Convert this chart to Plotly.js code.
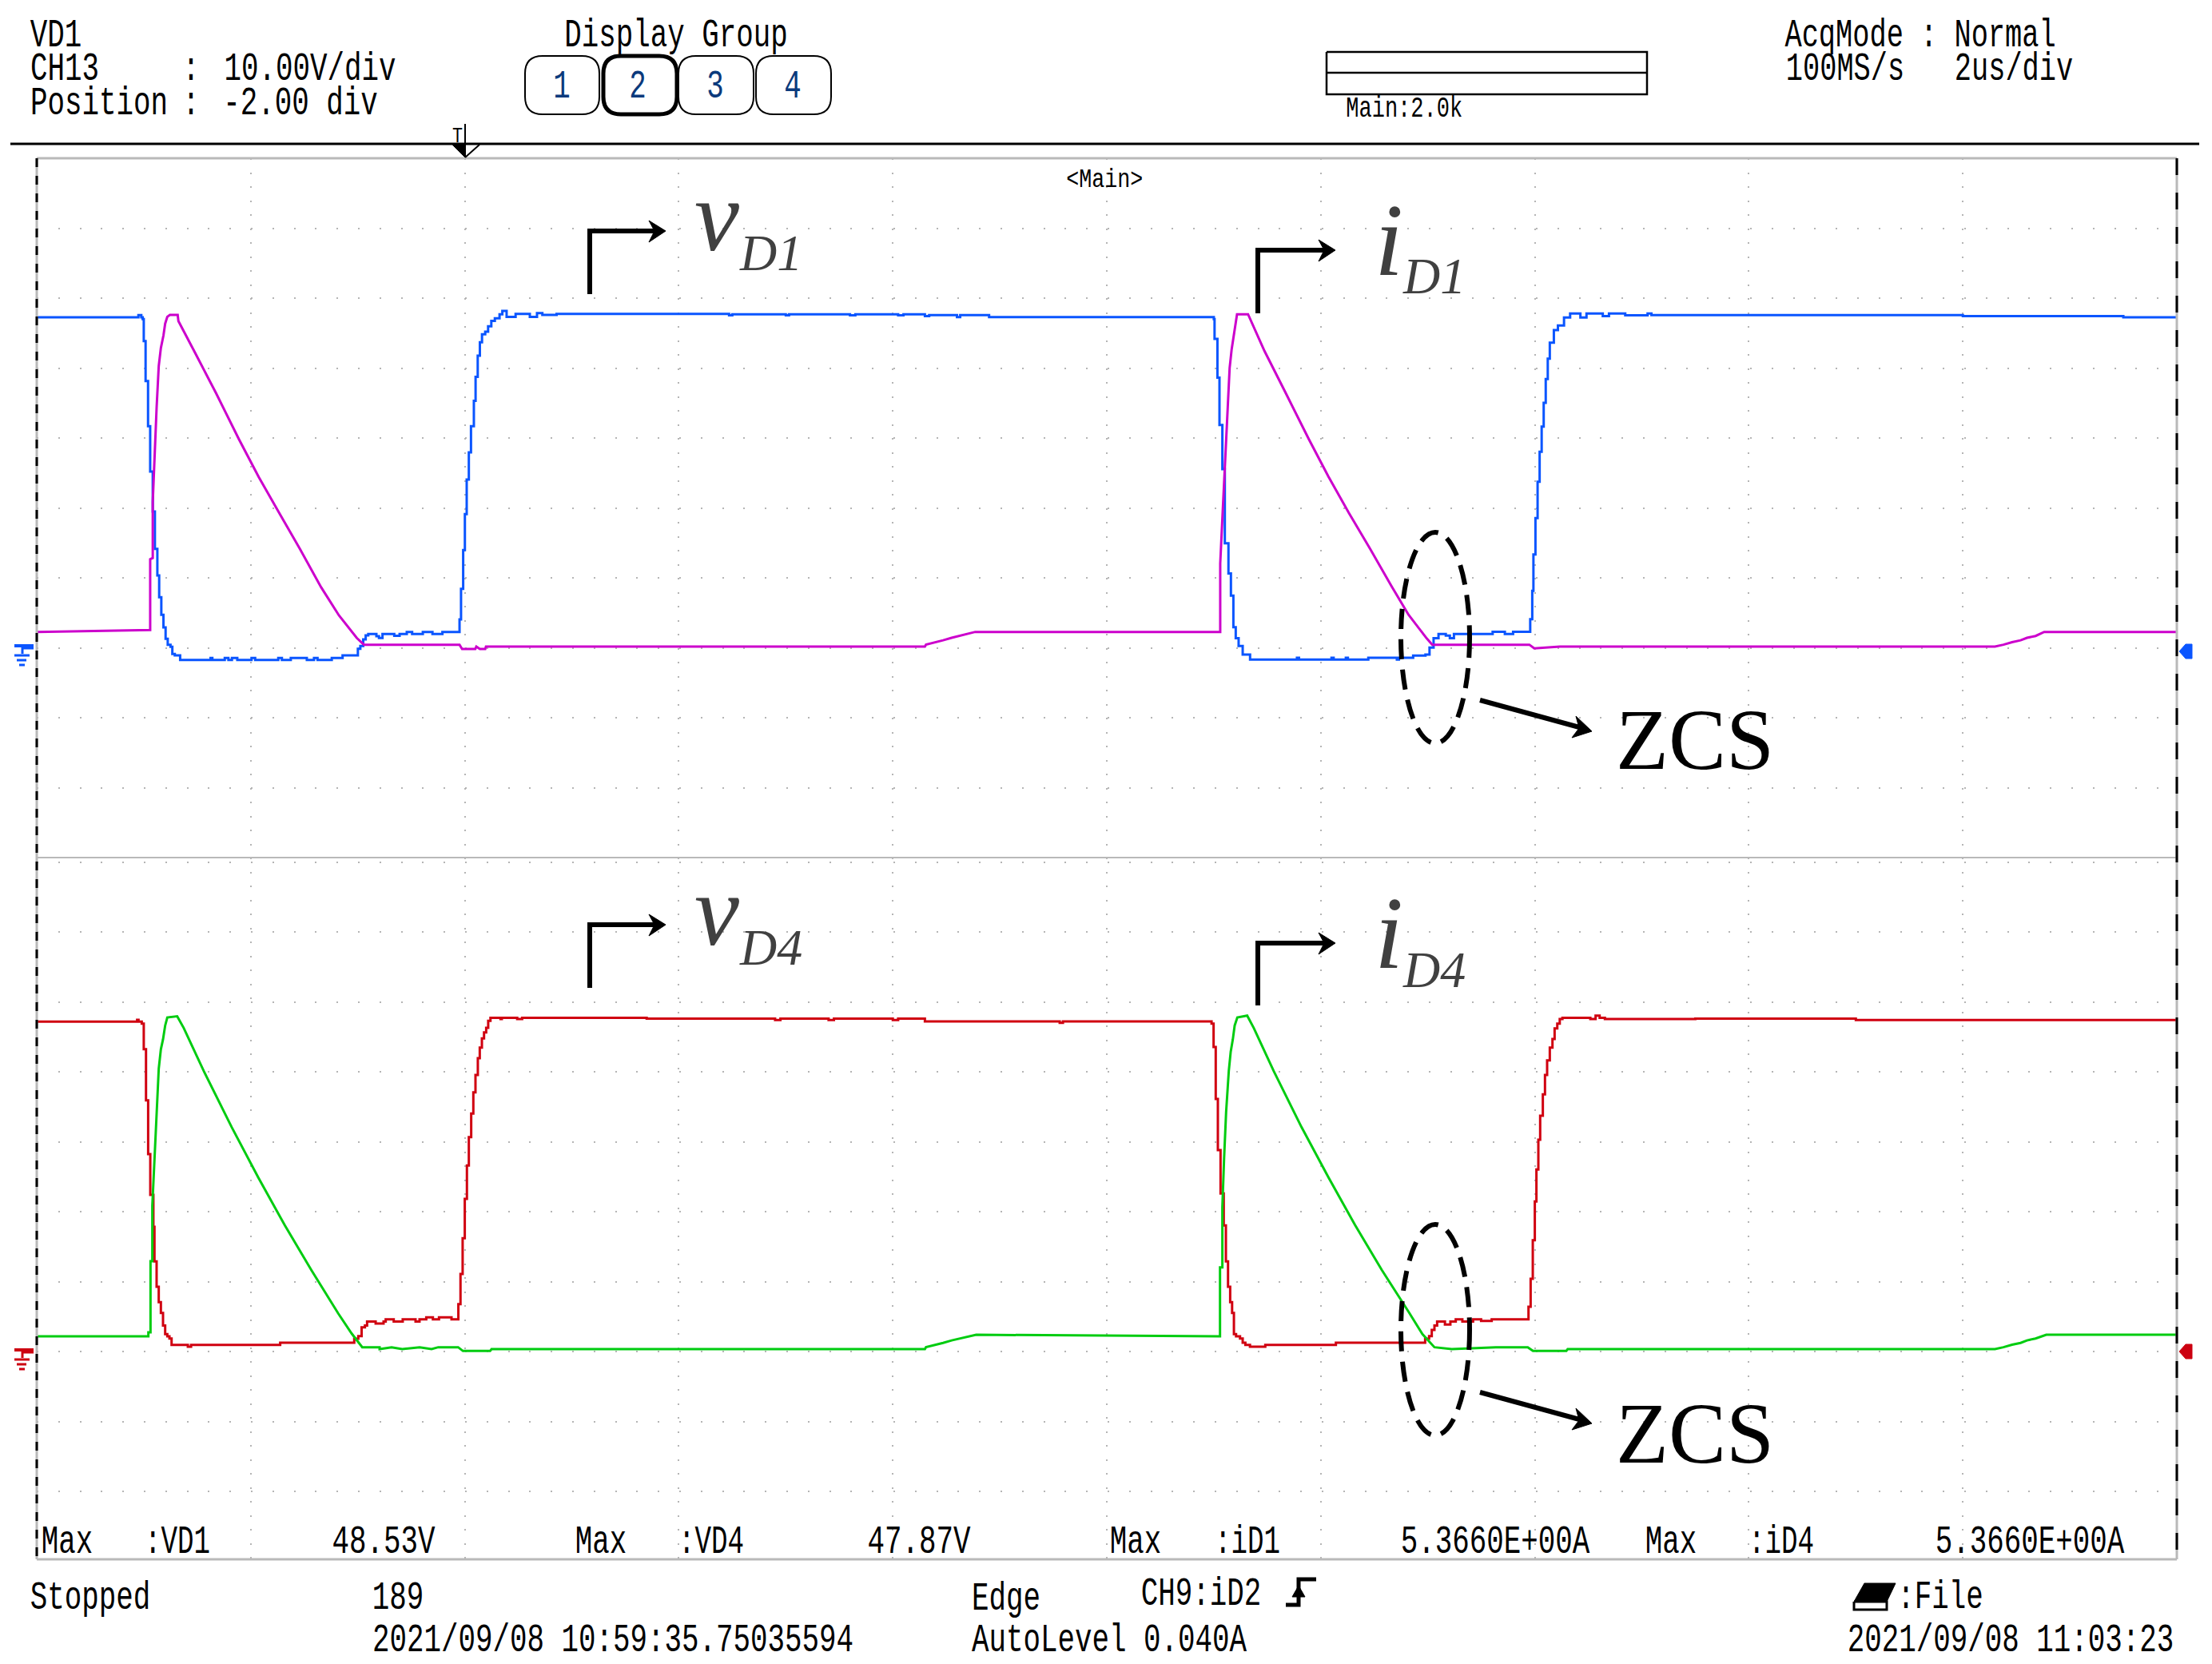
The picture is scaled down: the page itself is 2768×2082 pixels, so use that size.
<!DOCTYPE html>
<html><head><meta charset="utf-8">
<script src="https://cdn.plot.ly/plotly-3.0.1.min.js"></script>
<style>html,body{margin:0;padding:0;background:#fff}</style></head>
<body><div id="chart" style="width:2768px;height:2082px"></div>
<script>
// Times in microseconds, voltages in volts, currents in amperes.
const vD1T=[0,0.95,0.977,0.99,1,1.017,1.04,1.06,1.084,1.104,1.127,1.144,1.164,1.184,1.204,1.224,1.25,1.267,1.29,1.34,1.624,1.641,1.757,1.791,1.824,1.874,2.007,2.041,2.257,2.291,2.374,2.524,2.591,2.624,2.757,2.858,3.001,3.024,3.051,3.074,3.098,3.174,3.198,3.231,3.341,3.391,3.458,3.508,3.608,3.698,3.791,3.951,3.965,3.985,4.001,4.018,4.038,4.058,4.085,4.101,4.121,4.141,4.161,4.191,4.218,4.248,4.281,4.325,4.351,4.391,4.475,4.608,4.675,4.725,4.858,6.47,6.5,7,7.03,7.6,7.65,8.05,8.1,8.3,8.34,8.6,8.63,8.9,
11,11.007,11.034,11.053,11.08,11.103,11.137,11.16,11.183,11.205,11.232,11.27,11.339,11.777,11.796,12.1,12.12,12.234,12.253,12.444,12.711,12.73,12.863,12.978,13.016,13.054,13.1,13.168,13.206,13.244,13.606,13.72,13.797,13.957,13.976,13.987,14.006,14.026,14.045,14.064,14.083,14.102,14.121,14.14,14.178,14.216,14.273,14.33,14.426,14.483,14.635,14.693,14.845,15.054,15.09,18,19.5,20];
const vD1V=[47.43,47.73,47.43,47.16,44.04,38.32,31.85,25.37,19.66,14.32,10.51,7.39,4.88,3.09,1.45,0.61,0.3,-0.72,-0.91,-1.56,-1.3,-1.56,-1.3,-1.56,-1.3,-1.56,-1.3,-1.56,-1.3,-1.56,-1.3,-1.56,-1.3,-1.56,-1.3,-0.91,0.04,0.42,1.37,1.94,2.13,1.83,1.56,2.13,1.87,2.13,2.44,2.13,2.44,2.13,2.44,4.23,8.61,14.13,19.28,24.23,28.11,31.85,35.47,38.9,41.94,43.85,44.99,45.37,46.13,46.9,47.28,47.85,48.34,47.47,47.92,47.47,48.04,47.77,47.92,47.7,47.86,47.7,47.86,47.7,47.86,47.7,47.86,47.6,47.75,47.46,47.75,47.46,
47.16,44.35,38.8,32.03,25.7,15.1,10.8,7.64,3.12,1.54,0.42,-0.8,-1.53,-1.26,-1.53,-1.26,-1.53,-1.26,-1.53,-1.26,-1.53,-1.26,-0.94,-0.8,0.19,1.54,2.13,1.91,1.54,2.13,2.45,2.13,2.45,4.25,8.32,13.51,18.7,23.9,28.2,31.8,35.2,38.6,41.5,43.8,45.6,46.25,47.39,47.97,47.39,47.97,47.6,47.97,47.7,47.97,47.75,47.6,47.43,47.43];

const iD1T=[0,1.04,1.06,1.06,1.084,1.084,1.1,1.12,1.14,1.16,1.184,1.2,1.22,1.244,1.317,1.324,1.474,1.674,1.891,2.074,2.257,2.458,2.658,2.824,2.991,3.041,3.058,3.951,3.975,4.098,4.108,4.141,4.191,4.198,8.3,8.31,8.39,8.47,8.55,8.62,8.7,8.77,
11.06,11.06,11.083,11.11,11.129,11.148,11.167,11.186,11.217,11.32,11.474,11.674,11.89,12.07,12.26,12.46,12.66,12.82,12.99,13.042,13.949,13.995,14.235,18.3,18.38,18.46,18.54,18.6,18.68,18.76,20];
const iD1A=[0.235,0.265,0.265,1.4,1.42,2.32,3.09,3.83,4.5,4.79,4.99,5.18,5.29,5.32,5.32,5.22,4.73,4.07,3.32,2.72,2.17,1.57,0.95,0.5,0.137,0.05,0.03,0.03,-0.04,-0.04,0,-0.04,-0.04,0,0,0.03,0.07,0.1,0.14,0.17,0.2,0.235,
0.235,1.33,2.16,3.05,3.81,4.47,4.77,4.98,5.33,5.33,4.74,4.06,3.32,2.73,2.15,1.57,0.97,0.51,0.13,0.03,0.03,-0.03,0,0,0.03,0.07,0.1,0.14,0.17,0.235,0.235];

const vD4T=[0,0.938,0.951,0.981,1,1.021,1.041,1.061,1.09,1.1,1.12,1.14,1.16,1.18,1.2,1.22,1.24,1.26,1.412,1.442,2.275,2.967,3.005,3.036,3.067,3.087,3.167,3.241,3.261,3.336,3.42,3.54,3.577,3.64,3.702,3.759,3.876,3.94,3.96,3.98,4,4.02,4.038,4.06,4.08,4.1,4.122,4.14,4.16,4.18,4.2,4.219,4.24,4.334,4.346,4.49,4.536,5.7,6.9,6.95,7.4,7.45,8,8.05,8.3,9.56,9.59,
10.979,10.998,11.018,11.038,11.063,11.093,11.113,11.133,11.153,11.171,11.188,11.208,11.245,11.27,11.295,11.338,11.481,12.141,12.975,13.012,13.037,13.062,13.087,13.16,13.211,13.261,13.323,13.423,13.498,13.597,13.941,13.961,13.981,14,14.015,14.033,14.05,14.075,14.095,14.115,14.14,14.165,14.185,14.21,14.233,14.258,14.519,14.568,14.606,14.655,15.5,17,20];
const vD4V=[47.16,47.43,47.16,46.9,43.24,35.92,28.23,22.4,17.83,12.88,9.26,7.05,5.52,3.73,2.48,2.17,1.87,0.95,0.69,0.95,1.26,1.83,2.21,3.47,3.73,4.3,4,4.3,4.61,4.3,4.61,4.3,4.61,4.88,4.61,4.88,4.61,6.78,11.09,16.19,21.83,26.59,30.67,34.02,37.07,39.54,41.94,43.47,44.76,45.64,46.29,47.28,47.73,47.54,47.73,47.54,47.73,47.6,47.4,47.6,47.4,47.6,47.4,47.6,47.2,47,47.2,
46.9,43.54,36.11,28.8,22.59,18.03,12.88,9.26,7.05,5.52,2.48,2.17,1.87,1.26,0.95,0.69,0.95,1.26,1.83,2.21,3.09,3.73,4.3,3.85,4.3,4.61,4.3,4.61,4.38,4.61,6.4,10.4,15.92,21.45,26.02,30.29,33.71,36.76,39.54,41.64,43.47,44.69,46.2,46.9,47.54,47.73,47.54,48.04,47.73,47.54,47.6,47.4,47.2];

const iD4T=[0,1.043,1.043,1.063,1.063,1.08,1.08,1.1,1.12,1.14,1.16,1.18,1.2,1.22,1.312,1.374,1.561,1.822,2.071,2.32,2.569,2.818,2.943,3.042,3.204,3.204,3.316,3.416,3.578,3.69,3.752,3.938,3.983,4.237,4.25,8.3,8.31,8.39,8.47,8.55,8.62,8.7,8.78,
11.058,11.058,11.08,11.08,11.096,11.115,11.14,11.158,11.178,11.195,11.22,11.312,11.374,11.56,11.82,12.07,12.32,12.57,12.82,12.95,13.062,13.224,13.635,13.934,13.983,14.294,14.307,18.3,18.38,18.46,18.54,18.6,18.68,18.78,20];
const iD4A=[0.205,0.205,0.27,0.27,1.41,1.41,2.3,3.09,3.88,4.5,4.81,4.97,5.19,5.32,5.34,5.15,4.46,3.56,2.75,1.98,1.26,0.57,0.25,0.03,0.03,0,0.03,0,0.03,0,0.03,0.03,-0.03,-0.03,0,0,0.03,0.07,0.1,0.14,0.17,0.2,0.23,
0.205,1.31,1.31,2.28,3.05,3.8,4.46,4.77,4.97,5.19,5.32,5.35,5.15,4.46,3.56,2.76,1.99,1.27,0.6,0.24,0.03,0,0.03,0.03,-0.03,-0.03,0,0,0.03,0.07,0.1,0.14,0.17,0.23,0.23];

const headerTexts=["VD1","CH13","10.00V/div","Position",":","-2.00 div","Display Group","AcqMode : Normal","100MS/s","2us/div","Main:2.0k"];
const footerTexts=["Max",":VD1","48.53V",":VD4","47.87V",":iD1","5.3660E+00A",":iD4","Stopped","189","Edge","CH9:iD2",":File","2021/09/08 10:59:35.75035594","AutoLevel 0.040A","2021/09/08 11:03:23"];
const groupButtons=["1","2","3","4"];

const W=2768,H=2082,L=46,R=2724,TOP=198,MID=1073,BOT=1951;
const fx=x=>x/W, fy=y=>1-y/H;
const path=(pts,close)=>pts.map((p,i)=>(i?'L':'M')+fx(p[0])+' '+fy(p[1])).join(' ')+(close?' Z':'');
const poly=(pts,c,w)=>({type:'path',xref:'paper',yref:'paper',path:path(pts),line:{color:c,width:w},layer:'above'});
const fill=(pts,c)=>({type:'path',xref:'paper',yref:'paper',path:path(pts,true),fillcolor:c,line:{color:c,width:1},layer:'above'});
const rrect=(x0,y0,x1,y1,r,w)=>({type:'path',xref:'paper',yref:'paper',layer:'above',fillcolor:'#fff',line:{color:'#000',width:w},
 path:`M${fx(x0+r)} ${fy(y0)} L${fx(x1-r)} ${fy(y0)} Q${fx(x1)} ${fy(y0)} ${fx(x1)} ${fy(y0+r)} L${fx(x1)} ${fy(y1-r)} Q${fx(x1)} ${fy(y1)} ${fx(x1-r)} ${fy(y1)} L${fx(x0+r)} ${fy(y1)} Q${fx(x0)} ${fy(y1)} ${fx(x0)} ${fy(y1-r)} L${fx(x0)} ${fy(y0+r)} Q${fx(x0)} ${fy(y0)} ${fx(x0+r)} ${fy(y0)} Z`});

const shapes=[];
// frame
shapes.push(poly([[L,TOP],[R,TOP]],'#b9b9b9',3),poly([[L,MID],[R,MID]],'#b9b9b9',2),poly([[L,BOT],[R,BOT]],'#b9b9b9',3));
shapes.push(poly([[L,TOP],[L,BOT]],'#b9b9b9',3),poly([[R,TOP],[R,BOT]],'#b9b9b9',3));
shapes.push({...poly([[L,TOP],[L,BOT]],'#000',3),line:{color:'#000',width:3,dash:'11px,11px'}});
shapes.push({...poly([[R,TOP],[R,BOT]],'#000',3),line:{color:'#000',width:3,dash:'21px,22px'}});
// top rule and trigger marker
shapes.push(poly([[13,180],[2752,180]],'#000',3),poly([[582,155],[582,197]],'#000',2));
shapes.push(fill([[566,181],[582,181],[582,197]],'#000'),poly([[582,197],[600,181]],'#000',2));
// buttons
[[657,750,2],[849,943,2],[946,1040,2],[755,847,5]].forEach(b=>shapes.push(rrect(b[0],70,b[1],143,22,b[2])));
// acquisition box
shapes.push(poly([[1660,65],[2061,65],[2061,118],[1660,118],[1660,65]],'#000',2.5),poly([[1660,91],[2061,91]],'#000',2.5));
// bent arrows beside labels
[[738,368,287,289,833],[1574,392,311,313,1671],[738,1236,1155,1157,833],[1574,1258,1177,1180,1671]].forEach(a=>{
  shapes.push(poly([[a[0],a[1]],[a[0],a[2]]],'#000',6),poly([[a[0]-3,a[3]],[a[4]-8,a[3]]],'#000',6));
  shapes.push(fill([[a[4]-21,a[3]-13],[a[4],a[3]],[a[4]-21,a[3]+14],[a[4]-14,a[3]]],'#000'));
});
// ZCS ellipses and arrows
[0,866].forEach(d=>{
  shapes.push({type:'circle',xref:'paper',yref:'paper',layer:'above',x0:fx(1753),x1:fx(1839),y0:fy(930+d),y1:fy(666+d),line:{color:'#000',width:6,dash:'25px,13px'}});
  shapes.push(poly([[1852,876+d],[1980,911+d]],'#000',6));
  shapes.push(fill([[1992,915+d],[1972,896+d],[1976,911+d],[1967,923+d]],'#000'));
});
// ground symbols and channel markers
const gnd=(c,y)=>[poly([[18,y],[42,y]],c,4),poly([[28,y],[28,y+10]],c,3),poly([[28,y+3],[42,y+3]],c,3),poly([[18,y+12],[37,y+12]],c,3),poly([[21,y+18],[33,y+18]],c,3),poly([[24,y+24],[31,y+24]],c,3)];
shapes.push(...gnd('#0a55ff',808),...gnd('#cc0010',1689));
const mark=(c,y)=>fill([[2727,y],[2735,y-9],[2743,y-9],[2743,y+9],[2735,y+9]],c);
shapes.push(mark('#0a55ff',815),mark('#cc0010',1691));
// trigger edge symbol
shapes.push(poly([[1609,2008],[1625,2008],[1625,1976],[1647,1976]],'#000',5),fill([[1617,1998],[1633,1998],[1625,1984]],'#000'));
// printer icon
shapes.push(fill([[2333,1981],[2372,1981],[2361,2004],[2320,2004]],'#000'),poly([[2320,2004],[2361,2004],[2361,2014],[2320,2014],[2320,2004]],'#000',3));

const ann=[],squeeze={};
function mono(text,x,base,cell,size,color){
  const w=text.length*cell, i=ann.length; squeeze[i]=w;
  ann.push({text,xref:'paper',yref:'paper',x:fx(x+w/2),y:fy(base+0.3*size),xanchor:'center',yanchor:'bottom',showarrow:false,borderpad:0,borderwidth:0,
    font:{family:'Liberation Mono',size,color:color||'#000'}});
}
function serif(text,x,base,size,color){
  ann.push({text,xref:'paper',yref:'paper',x:fx(x),y:fy(base+0.216*size),xanchor:'left',yanchor:'bottom',showarrow:false,borderpad:0,borderwidth:0,
    font:{family:'Liberation Serif',size,color}});
}
const C=21.5,S=50;
mono(headerTexts[0],38,58,C,S);
mono(headerTexts[1],38,100,C,S); mono(":",228,100,C,S); mono(headerTexts[2],280,100,C,S);
mono(headerTexts[3],38,143,C,S); mono(":",228,143,C,S); mono(headerTexts[5],279,143,C,S);
mono(headerTexts[6],706,58,C,S);
mono(headerTexts[7],2233,58,C-0.3,S);
mono(headerTexts[8],2235,100,C-0.3,S); mono(headerTexts[9],2446,100,C-0.3,S);
mono(headerTexts[10],1684,146,16.2,36);
mono("<Main>",1334,234,16,34);
mono("T",566,178,13,28);
groupButtons.forEach((b,i)=>mono(b,[692,787,884,981][i],122,21.5,50,'#0b3a7c'));
[52,720,1389,2059].forEach(x=>mono(footerTexts[0],x,1943,C,S));
mono(footerTexts[1],181,1943,20.5,S); mono(footerTexts[2],415,1943,C,S);
mono(footerTexts[3],849,1943,20.5,S); mono(footerTexts[4],1085,1943,C,S);
mono(footerTexts[5],1520,1943,20.5,S); mono(footerTexts[6],1753,1943,C,S);
mono(footerTexts[7],2188,1943,20.5,S); mono(footerTexts[6],2422,1943,C,S);
mono(footerTexts[8],38,2013,C,S); mono(footerTexts[9],466,2013,C,S); mono(footerTexts[10],1216,2014,C,S);
mono(footerTexts[11],1428,2008,C,S); mono(footerTexts[12],2374,2012,C,S);
mono(footerTexts[13],466,2066,C,S); mono(footerTexts[14],1216,2066,C,S); mono(footerTexts[15],2312,2066,C,S);
const G='#404040';
serif('<i>v</i>',869,313,126,G); serif('<i>D1</i>',925,338,64,G);
serif('<i>i</i>',1720,344,130,G); serif('<i>D1</i>',1755,367,64,G);
serif('<i>v</i>',869,1182,126,G); serif('<i>D4</i>',925,1207,64,G);
serif('<i>i</i>',1720,1211,130,G); serif('<i>D4</i>',1755,1235,64,G);
serif('ZCS',2022,962,108,'#000'); serif('ZCS',2022,1830,108,'#000');

const yBase={domain:[fy(MID),fy(TOP)],showticklabels:false,ticks:'',zeroline:false,showline:false,showgrid:true,gridcolor:'#b5b5b5',gridwidth:2,griddash:'2px,24.8px',dtick:10};
const layout={width:W,height:H,margin:{l:0,r:0,t:0,b:0,pad:0},paper_bgcolor:'#fff',plot_bgcolor:'#fff',showlegend:false,
 xaxis:{domain:[fx(L),fx(R)],range:[0,20],dtick:2,tick0:0,showticklabels:false,ticks:'',zeroline:false,showline:false,showgrid:true,gridcolor:'#b5b5b5',gridwidth:2,griddash:'2px,15.5px',anchor:'y'},
 yaxis:{...yBase,range:[-29.83,70.17],tick0:0.17},
 yaxis2:{range:[-3.385,7.833],overlaying:'y',domain:yBase.domain,visible:false},
 yaxis3:{...yBase,domain:[fy(BOT),fy(MID)],range:[-29.71,70.63],tick0:0},
 yaxis4:{range:[-3.372,7.885],overlaying:'y3',domain:[fy(BOT),fy(MID)],visible:false},
 shapes,annotations:ann};
const tr=(x,y,ya,color,shape,name)=>({x,y,yaxis:ya,xaxis:'x',type:'scatter',mode:'lines',name,hoverinfo:'skip',line:{color,width:3,shape}});
const data=[tr(vD1T,vD1V,'y','#0a55ff','hv','vD1'),tr(iD1T,iD1A,'y2','#cc00cc','linear','iD1'),
            tr(vD4T,vD4V,'y3','#d00010','hv','vD4'),tr(iD4T,iD4A,'y4','#00cc10','linear','iD4')];
Plotly.newPlot('chart',data,layout,{staticPlot:true,displayModeBar:false}).then(()=>{
  Object.keys(squeeze).forEach(i=>{
    const t=document.querySelector(`.annotation[data-index="${i}"] text`);
    if(t){t.setAttribute('textLength',squeeze[i]);t.setAttribute('lengthAdjust','spacingAndGlyphs');}
  });
});
</script></body></html>
